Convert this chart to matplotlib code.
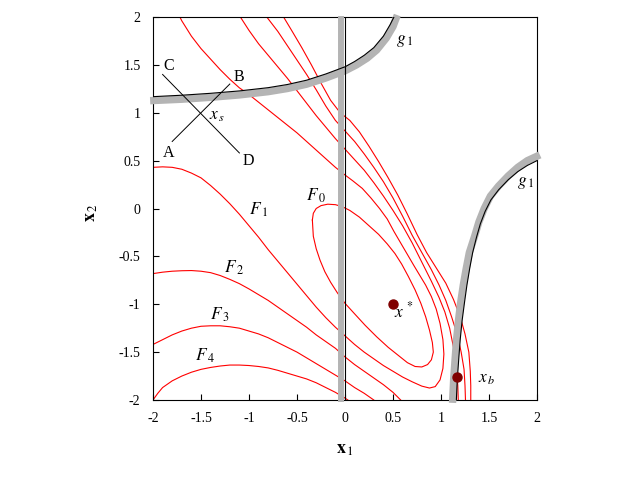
import matplotlib.pyplot as plt

plt.rcParams['font.family'] = 'Liberation Serif'
plt.rcParams['mathtext.fontset'] = 'stix'
plt.rcParams['axes.unicode_minus'] = False

# objective contours
f0_x = [-0.34, -0.33, -0.30, -0.25, -0.18, -0.10, -0.03, 0.05, 0.15, 0.25, 0.35, 0.44, 0.52, 0.59,
        0.66, 0.73, 0.79, 0.84, 0.88, 0.91, 0.92, 0.90, 0.86, 0.80, 0.73, 0.65, 0.55, 0.45, 0.33,
        0.21, 0.10, 0.0, -0.08, -0.15, -0.21, -0.26, -0.30, -0.33, -0.34]
f0_y = [-0.12, -0.05, 0.0, 0.03, 0.045, 0.04, 0.02, -0.02, -0.09, -0.18, -0.27, -0.37, -0.47,
        -0.58, -0.71, -0.85, -0.99, -1.13, -1.27, -1.40, -1.50, -1.58, -1.63, -1.655, -1.65, -1.61,
        -1.53, -1.45, -1.34, -1.22, -1.10, -0.99, -0.88, -0.77, -0.66, -0.54, -0.42, -0.29, -0.12]

f1_x = [-2.0, -1.9, -1.8, -1.7, -1.6, -1.5, -1.4, -1.3, -1.2, -1.1, -1.0, -0.9, -0.8, -0.7, -0.6,
        -0.5, -0.4, -0.3, -0.2, -0.1, 0.0, 0.1, 0.2, 0.3, 0.4, 0.5, 0.6, 0.7, 0.8, 0.88, 0.94, 0.99,
        1.02, 1.03, 1.02, 0.99, 0.95, 0.90, 0.84, 0.78, 0.72, 0.65, 0.58, 0.51, 0.44, 0.36, 0.27,
        0.18, 0.08, 0.0, -0.1, -0.2, -0.3, -0.4, -0.5, -0.6, -0.7, -0.8, -0.9, -1.0, -1.1, -1.2,
        -1.3, -1.4, -1.5, -1.6, -1.7, -1.72]
f1_y = [0.43, 0.435, 0.43, 0.41, 0.37, 0.32, 0.24, 0.15, 0.05, -0.06, -0.18, -0.30, -0.43, -0.55,
        -0.67, -0.79, -0.91, -1.03, -1.14, -1.24, -1.33, -1.42, -1.50, -1.57, -1.64, -1.70, -1.76,
        -1.81, -1.855, -1.875, -1.86, -1.79, -1.67, -1.52, -1.37, -1.20, -1.05, -0.92, -0.80, -0.70,
        -0.60, -0.48, -0.36, -0.24, -0.11, 0.0, 0.11, 0.21, 0.29, 0.35, 0.43, 0.52, 0.61, 0.70, 0.79,
        0.87, 0.95, 1.03, 1.11, 1.19, 1.26, 1.35, 1.45, 1.56, 1.67, 1.80, 1.96, 2.0]

f2_low_x = [-2.0, -1.9, -1.8, -1.7, -1.6, -1.5, -1.4, -1.3, -1.2, -1.1, -1.0, -0.9, -0.8, -0.7,
            -0.6, -0.5, -0.4, -0.3, -0.2, -0.1, 0.0, 0.1, 0.2, 0.3, 0.4, 0.5, 0.58]
f2_low_y = [-0.68, -0.665, -0.655, -0.65, -0.648, -0.655, -0.67, -0.70, -0.74, -0.785, -0.84,
            -0.90, -0.96, -1.03, -1.10, -1.17, -1.24, -1.32, -1.39, -1.46, -1.55, -1.63, -1.70,
            -1.77, -1.84, -1.92, -2.0]
f2_up_x = [-1.09, -1.0, -0.9, -0.8, -0.7, -0.6, -0.5, -0.4, -0.3, -0.2, -0.1, 0.0, 0.1, 0.2, 0.3,
           0.4, 0.5, 0.6, 0.7, 0.8, 0.9, 0.98, 1.04, 1.09, 1.13, 1.16, 1.175, 1.18]
f2_up_y = [2.0, 1.86, 1.72, 1.60, 1.48, 1.36, 1.23, 1.10, 0.97, 0.85, 0.73, 0.62, 0.51, 0.40, 0.27,
           0.13, -0.02, -0.18, -0.36, -0.56, -0.76, -0.93, -1.08, -1.25, -1.45, -1.65, -1.85, -2.0]

f3_low_x = [-2.0, -1.9, -1.8, -1.7, -1.6, -1.5, -1.4, -1.3, -1.2, -1.1, -1.0, -0.9, -0.8, -0.7,
            -0.6, -0.5, -0.4, -0.3, -0.2, -0.1, 0.0, 0.1, 0.2, 0.3]
f3_low_y = [-1.42, -1.37, -1.32, -1.28, -1.25, -1.23, -1.225, -1.225, -1.235, -1.25, -1.28, -1.31,
            -1.35, -1.40, -1.45, -1.50, -1.56, -1.62, -1.68, -1.74, -1.80, -1.87, -1.93, -2.0]
f3_up_x = [-0.815, -0.7, -0.6, -0.5, -0.4, -0.3, -0.2, -0.1, 0.0, 0.1, 0.2, 0.3, 0.4, 0.5, 0.6,
           0.7, 0.8, 0.9, 0.98, 1.05, 1.11, 1.17, 1.21, 1.24, 1.25, 1.255]
f3_up_y = [2.0, 1.85, 1.70, 1.55, 1.40, 1.24, 1.07, 0.92, 0.81, 0.70, 0.57, 0.43, 0.28, 0.11, -0.08,
           -0.28, -0.46, -0.64, -0.80, -0.96, -1.13, -1.32, -1.50, -1.68, -1.85, -2.0]

f4_low_x = [-2.0, -1.95, -1.9, -1.8, -1.7, -1.6, -1.5, -1.4, -1.3, -1.2, -1.1, -1.0, -0.9, -0.8,
            -0.7, -0.6, -0.5, -0.4, -0.3, -0.2, -0.1, 0.0, 0.03]
f4_low_y = [-2.0, -1.93, -1.87, -1.80, -1.75, -1.71, -1.68, -1.66, -1.645, -1.635, -1.635, -1.64,
            -1.65, -1.665, -1.69, -1.72, -1.75, -1.78, -1.82, -1.87, -1.92, -1.98, -2.0]
f4_up_x = [-0.64, -0.55, -0.45, -0.35, -0.25, -0.15, -0.05, 0.05, 0.15, 0.25, 0.35, 0.45, 0.55,
           0.65, 0.75, 0.85, 0.95, 1.05, 1.13, 1.2, 1.25, 1.29, 1.305, 1.31, 1.31]
f4_up_y = [2.0, 1.85, 1.68, 1.50, 1.31, 1.13, 1.0, 0.92, 0.80, 0.65, 0.49, 0.32, 0.14, -0.06,
           -0.27, -0.46, -0.62, -0.78, -0.95, -1.13, -1.31, -1.50, -1.7, -1.85, -2.0]

# constraint g1, upper branch (boundary and shaded side)
g1a_x = [-2.0, -1.7, -1.4, -1.1, -0.8, -0.6, -0.4, -0.2, 0.0, 0.1, 0.2, 0.3, 0.4, 0.47, 0.51]
g1a_y = [1.168, 1.183, 1.203, 1.228, 1.262, 1.295, 1.34, 1.405, 1.48, 1.535, 1.60, 1.68, 1.80,
         1.92, 2.0]
g1a_band_x = [-2.03, -1.7, -1.4, -1.1, -0.8, -0.6, -0.4, -0.2, 0.0, 0.12, 0.23, 0.33, 0.43, 0.5,
              0.545]
g1a_band_y = [1.126, 1.141, 1.161, 1.186, 1.22, 1.253, 1.298, 1.363, 1.438, 1.5, 1.57, 1.655, 1.78,
              1.9, 2.02]

# constraint g1, lower branch
g1b_x = [2.0, 1.9, 1.8, 1.7, 1.6, 1.52, 1.46, 1.41, 1.37, 1.33, 1.30, 1.27, 1.245, 1.22, 1.20,
         1.185, 1.17, 1.16]
g1b_y = [0.50, 0.45, 0.385, 0.30, 0.195, 0.09, -0.03, -0.16, -0.30, -0.46, -0.62, -0.80, -0.98,
         -1.17, -1.37, -1.57, -1.78, -2.0]
g1b_band_x = [2.03, 1.9, 1.8, 1.7, 1.6, 1.515, 1.45, 1.395, 1.35, 1.295, 1.262, 1.232, 1.205,
              1.182, 1.162, 1.147, 1.132, 1.12]
g1b_band_y = [0.56, 0.50, 0.43, 0.34, 0.235, 0.13, 0.0, -0.14, -0.29, -0.46, -0.63, -0.80, -0.98,
              -1.17, -1.37, -1.57, -1.78, -2.03]

# side constraint x1 >= 0
g2_x = [0.0, 0.0]
g2_y = [-2.0, 2.0]
g2_band_x = [-0.043, -0.043]
g2_band_y = [-2.02, 2.01]

# search directions through x_s
ab_x = [-1.8, -1.2]
ab_y = [0.70, 1.30]
cd_x = [-1.9, -1.1]
cd_y = [1.40, 0.58]

opt_pt = (0.5, -1.0)
xb_pt = (1.167, -1.76)

ticks = [-2, -1.5, -1, -0.5, 0, 0.5, 1, 1.5, 2]
tick_labels = ['-2', '-1.5', '-1', '-0.5', '0', '0.5', '1', '1.5', '2']

fig = plt.figure(figsize=(6.4, 4.8), dpi=100)
ax = fig.add_axes([153 / 640, 80 / 480, 384 / 640, 383 / 480])

red = '#ff0000'
for xs, ys in [(f0_x, f0_y), (f1_x, f1_y), (f2_low_x, f2_low_y), (f2_up_x, f2_up_y),
               (f3_low_x, f3_low_y), (f3_up_x, f3_up_y), (f4_low_x, f4_low_y), (f4_up_x, f4_up_y)]:
    ax.plot(xs, ys, color=red, lw=0.8, zorder=2)

gray = '#b4b4b4'
ax.plot(g1a_band_x, g1a_band_y, color=gray, lw=5.3, zorder=3, clip_on=False, solid_capstyle='butt')
ax.plot(g1b_band_x, g1b_band_y, color=gray, lw=5.3, zorder=3, clip_on=False, solid_capstyle='butt')
ax.plot(g2_band_x, g2_band_y, color=gray, lw=4.3, zorder=3, clip_on=False, solid_capstyle='butt')
ax.plot(g1a_x, g1a_y, color='black', lw=0.8, zorder=4)
ax.plot(g1b_x, g1b_y, color='black', lw=0.8, zorder=4)
ax.plot(g2_x, g2_y, color='black', lw=0.8, zorder=4)

ax.plot(ab_x, ab_y, color='black', lw=0.7, zorder=4)
ax.plot(cd_x, cd_y, color='black', lw=0.7, zorder=4)

ax.plot(*opt_pt, 'o', color='#800000', ms=6.5, zorder=6)
ax.plot(*xb_pt, 'o', color='#800000', ms=6.5, zorder=6)

fs = 11.5
mfs = 12.5
ax.text(-1.84, 1.49, 'C', fontsize=fs, ha='center', va='center')
ax.text(-1.11, 1.37, 'B', fontsize=fs, ha='center', va='center')
ax.text(-1.84, 0.58, 'A', fontsize=fs, ha='center', va='center')
ax.text(-1.01, 0.50, 'D', fontsize=fs, ha='center', va='center')
ax.text(-1.33, 0.966, r'$x_{\,s}$', fontsize=mfs, ha='center', va='center')
ax.text(-0.30, 0.13, r'$F_{\,0}$', fontsize=mfs, ha='center', va='center')
ax.text(-0.90, -0.016, r'$F_{\,1}$', fontsize=mfs, ha='center', va='center')
ax.text(-1.16, -0.62, r'$F_{\,2}$', fontsize=mfs, ha='center', va='center')
ax.text(-1.31, -1.11, r'$F_{\,3}$', fontsize=mfs, ha='center', va='center')
ax.text(-1.46, -1.54, r'$F_{\,4}$', fontsize=mfs, ha='center', va='center')
ax.text(0.625, 1.75, r'$g_{\,1}$', fontsize=mfs, ha='center', va='center')
ax.text(1.885, 0.27, r'$g_{\,1}$', fontsize=mfs, ha='center', va='center')
ax.text(0.615, -1.07, r'$x^{\,*}$', fontsize=mfs, ha='center', va='center')
ax.text(1.48, -1.78, r'$x_{\,b}$', fontsize=mfs, ha='center', va='center')

ax.set_xlim(-2, 2)
ax.set_ylim(-2, 2)
ax.set_xticks(ticks)
ax.set_xticklabels(tick_labels)
ax.set_yticks(ticks)
ax.set_yticklabels(tick_labels)
ax.tick_params(direction='in', length=4, width=0.8, labelsize=10, top=False, right=False)
ax.tick_params(axis='x', pad=9)
ax.tick_params(axis='y', pad=9)
for s in ax.spines.values():
    s.set_linewidth(0.8)

ax.text(0.5, -0.13, r'$\mathbf{x}_{\,\mathrm{1}}$', transform=ax.transAxes, fontsize=13,
        ha='center', va='center')
ax.text(-0.161, 0.49, r'$\mathbf{x}_{\,\mathrm{2}}$', transform=ax.transAxes, fontsize=13,
        ha='center', va='center', rotation=90)

fig.savefig('out.png', dpi=100)
